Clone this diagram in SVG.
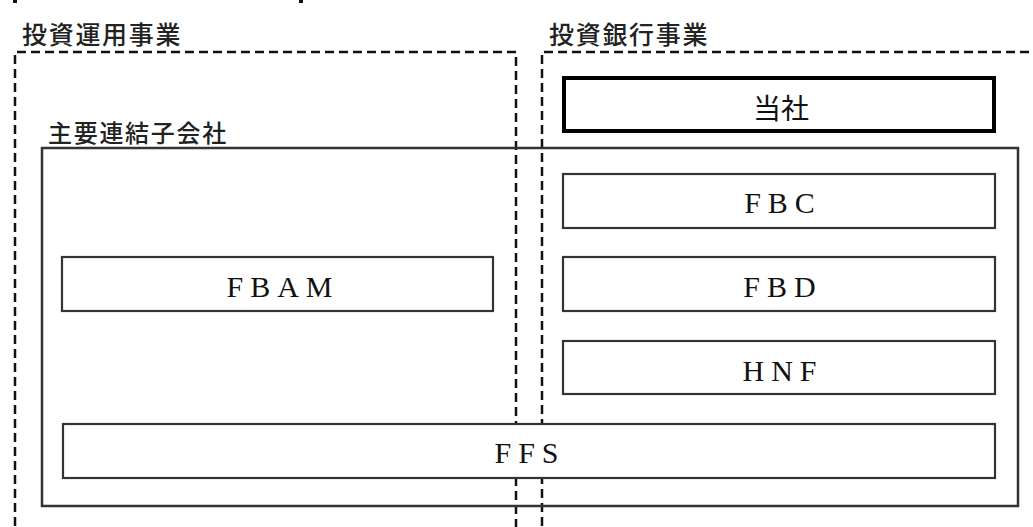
<svg xmlns="http://www.w3.org/2000/svg" width="1033" height="527" viewBox="0 0 1033 527">
<style>
.dash{fill:none;stroke:#111;stroke-width:2.5;stroke-dasharray:9 5}
.box{fill:#fff;stroke:#333;stroke-width:2.2}
.lbl{font-family:"Noto Sans CJK JP",sans-serif;font-size:25px;font-weight:500;fill:#222;letter-spacing:1.7px}
.nm{font-family:"Liberation Serif",serif;font-size:30px;fill:#111;text-anchor:middle;letter-spacing:7px}
</style>
<rect width="1033" height="527" fill="#fff"/>
<rect x="13" y="0" width="4" height="3" fill="#111"/>
<rect x="299" y="0" width="4" height="3" fill="#111"/>
<g id="group-investment-mgmt">
<path class="dash" d="M15,540 V52 H516 V540"/>
<text class="lbl" x="22" y="44">投資運用事業</text>
</g>
<g id="group-investment-banking">
<path class="dash" d="M542,540 V52 H1045"/>
<text class="lbl" x="549" y="44">投資銀行事業</text>
</g>
<g id="subsidiaries">
<rect x="42" y="148" width="976" height="358" fill="none" stroke="#333" stroke-width="2.5"/>
<text class="lbl" x="48" y="142" style="font-size:24px;letter-spacing:1.7px">主要連結子会社</text>
</g>
<g id="connectors"></g>
<g id="node-tousha">
<rect x="564" y="78" width="430" height="53" fill="#fff" stroke="#000" stroke-width="4"/>
<text x="781" y="119" font-family="'Noto Sans CJK JP',sans-serif" font-size="28" text-anchor="middle" fill="#111">当社</text>
</g>
<g id="node-fbc">
<rect class="box" x="563" y="174" width="432" height="54"/>
<text class="nm" x="783" y="213">FBC</text>
</g>
<g id="node-fbd">
<rect class="box" x="563" y="257" width="432" height="54"/>
<text class="nm" x="783" y="297">FBD</text>
</g>
<g id="node-hnf">
<rect class="box" x="563" y="341" width="432" height="53"/>
<text class="nm" x="783" y="381">HNF</text>
</g>
<g id="node-fbam">
<rect class="box" x="62" y="257" width="431" height="54"/>
<text class="nm" x="283" y="297">FBAM</text>
</g>
<g id="node-ffs">
<rect class="box" x="63" y="424" width="932" height="54"/>
<text class="nm" x="530" y="463">FFS</text>
</g>
</svg>
